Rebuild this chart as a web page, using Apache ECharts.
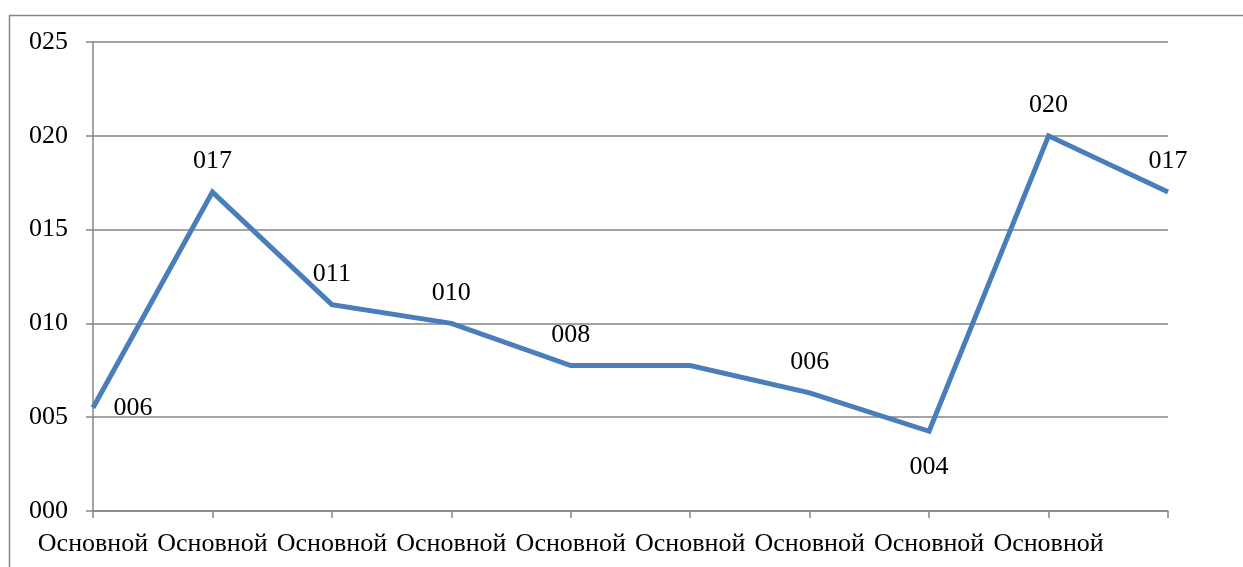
<!DOCTYPE html>
<html>
<head>
<meta charset="utf-8">
<script src="https://cdn.jsdelivr.net/npm/echarts@6/dist/echarts.min.js"></script>
<style>
html,body{margin:0;padding:0;background:#fff;}
#c{width:1243px;height:567px;}
</style>
</head>
<body>
<div id="c"></div>
<script>
const categories = ['Основной','Основной','Основной','Основной','Основной','Основной','Основной','Основной','Основной','Основной'];
const values = [5.5, 17, 11, 10, 7.75, 7.75, 6.3, 4.25, 20, 17];
const labelPositions = ['right','top','top','top','top','none','top','bottom','top','top'];
const yTicks = { min: 0, max: 25, interval: 5 };

const pad3 = v => String(Math.round(v)).padStart(3, '0');
const font = '"Liberation Serif", "Times New Roman", serif';
const axisColor = '#868686';

const seriesData = values.map((v, i) => {
  const pos = labelPositions[i];
  if (pos === 'none') return { value: v, label: { show: false } };
  const dist = pos === 'right' ? 20 : (pos === 'bottom' ? 22 : 17);
  const off = pos === 'right' ? [0, 2] : [0, 0];
  return { value: v, label: { show: true, position: pos, distance: dist, offset: off } };
});

const chart = echarts.init(document.getElementById('c'), null, { renderer: 'canvas' });
chart.setOption({
  animation: false,
  backgroundColor: '#fff',
  graphic: [{
    type: 'rect', left: 7, top: 13, silent: true,
    shape: { width: 1400, height: 700 },
    style: { fill: 'none', stroke: axisColor, lineWidth: 1.5 }
  }],
  grid: { left: 93, right: 75, top: 42, bottom: 56, containLabel: false },
  xAxis: {
    type: 'category',
    data: categories,
    boundaryGap: false,
    axisLine: { show: true, lineStyle: { color: axisColor, width: 1.5 } },
    axisTick: { show: true, alignWithLabel: true, length: 7, interval: 0, lineStyle: { color: axisColor, width: 1.5 } },
    axisLabel: {
      interval: 0, margin: 20, color: '#000', fontFamily: font, fontSize: 26,
      formatter: (v, i) => i === categories.length - 1 ? '' : v
    },
    splitLine: { show: false }
  },
  yAxis: {
    type: 'value',
    min: yTicks.min, max: yTicks.max, interval: yTicks.interval,
    axisLine: { show: true, lineStyle: { color: axisColor, width: 1.5 } },
    axisTick: { show: true, inside: false, length: 7, lineStyle: { color: axisColor, width: 1.5 } },
    axisLabel: { margin: 25, color: '#000', fontFamily: font, fontSize: 26, formatter: v => pad3(v) },
    splitLine: { show: true, lineStyle: { color: axisColor, width: 1.5 } }
  },
  series: [{
    type: 'line',
    data: seriesData,
    symbol: 'circle',
    symbolSize: 1,
    showSymbol: true,
    lineStyle: { color: '#4a7ebb', width: 5, join: 'miter' },
    itemStyle: { color: 'rgba(0,0,0,0)', borderWidth: 0 },
    label: {
      show: true, color: '#000', fontFamily: font, fontSize: 26,
      formatter: p => pad3(p.value)
    },
    labelLayout: { hideOverlap: false }
  }]
});
</script>
</body>
</html>
